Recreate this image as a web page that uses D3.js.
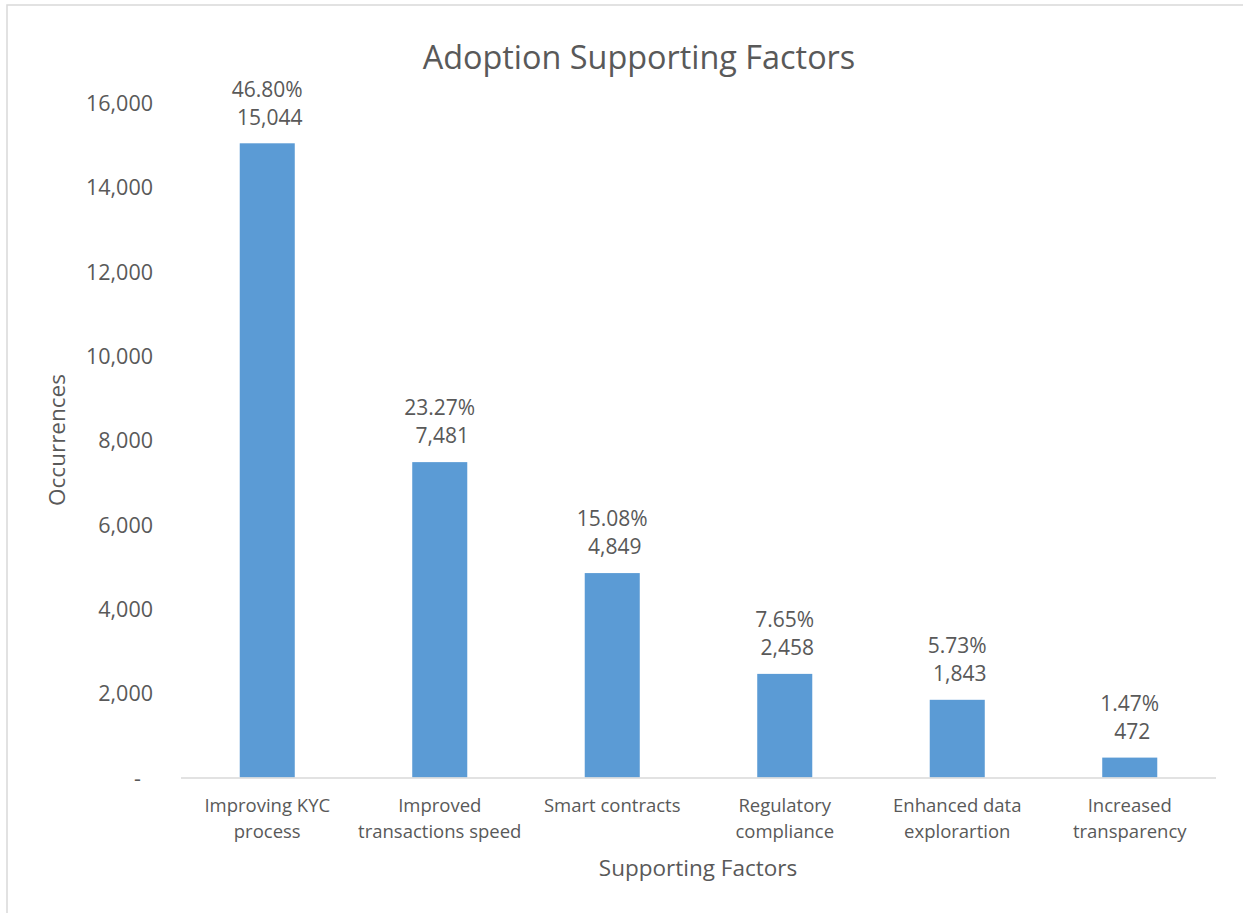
<!DOCTYPE html>
<html>
<head>
<meta charset="utf-8">
<script src="https://cdn.jsdelivr.net/npm/d3@7"></script>
<style>
    html, body { margin: 0; padding: 0; background: #fff; }
    svg { display: block; font-family: "Open Sans", sans-serif; }
    .txt { fill: #595959; }
</style>
</head>
<body>
<svg id="chart" width="1243" height="913"></svg>
<script>
(function () {
    "use strict";

    // data
    var categories = [
        ["Improving KYC", "process"],
        ["Improved", "transactions speed"],
        ["Smart contracts"],
        ["Regulatory", "compliance"],
        ["Enhanced data", "explorartion"],
        ["Increased", "transparency"]
    ];
    var occurrences = [15044, 7481, 4849, 2458, 1843, 472];
    var shares = ["46.80%", "23.27%", "15.08%", "7.65%", "5.73%", "1.47%"];
    var yTicks = [0, 2000, 4000, 6000, 8000, 10000, 12000, 14000, 16000];

    var svg = d3.select("#chart");
    var left = 181, right = 1216, top = 103, bottom = 777.5;

    // outer chart border (runs off the picture on the right and bottom)
    svg.append("rect")
        .attr("x", 7).attr("y", 5)
        .attr("width", 1400).attr("height", 1100)
        .attr("fill", "none")
        .attr("stroke", "#d9d9d9")
        .attr("stroke-width", 1.5);

    var x = d3.scaleBand()
        .domain(d3.range(categories.length))
        .range([left, right])
        .paddingInner(0.681)
        .paddingOuter(0.3405);

    var y = d3.scaleLinear()
        .domain([0, 16000])
        .range([bottom, top]);

    var fmt = d3.format(",");

    // y axis: labels only, no line or gridlines
    var yAxis = d3.axisLeft(y)
        .tickValues(yTicks)
        .tickSize(0)
        .tickPadding(0)
        .tickFormat(function (d) { return d === 0 ? "-" : fmt(d); });

    var $yAxis = svg.append("g")
        .attr("transform", "translate(153,0)")
        .call(yAxis);
    $yAxis.select(".domain").remove();
    $yAxis.selectAll("text")
        .attr("class", "txt")
        .attr("font-size", 21.5)
        .attr("font-family", "Open Sans")
        .attr("dy", "0.35em")
        .attr("dx", function (d) { return d === 0 ? -12 : 0; });

    // bars
    svg.append("g").selectAll("rect")
        .data(occurrences)
        .join("rect")
        .attr("x", function (d, i) { return x(i); })
        .attr("y", function (d) { return y(d); })
        .attr("width", x.bandwidth())
        .attr("height", function (d) { return bottom - y(d); })
        .attr("fill", "#5b9bd5");

    // x axis baseline
    svg.append("line")
        .attr("x1", left).attr("x2", right)
        .attr("y1", bottom + 0.5).attr("y2", bottom + 0.5)
        .attr("stroke", "#d9d9d9")
        .attr("stroke-width", 1.5);

    // data labels: share over count
    var $labels = svg.append("g").selectAll("g")
        .data(occurrences)
        .join("g")
        .attr("transform", function (d, i) {
            return "translate(" + (x(i) + x.bandwidth() / 2) + "," + y(d) + ")";
        });
    $labels.append("text")
        .attr("class", "txt")
        .attr("text-anchor", "middle")
        .attr("font-size", 21)
        .attr("y", -54)
        .attr("dy", "0.35em")
        .text(function (d, i) { return shares[i]; });
    $labels.append("text")
        .attr("class", "txt")
        .attr("text-anchor", "middle")
        .attr("font-size", 21)
        .attr("x", 2.5)
        .attr("y", -26)
        .attr("dy", "0.35em")
        .text(function (d) { return fmt(d); });

    // category labels
    var $cats = svg.append("g").selectAll("text")
        .data(categories)
        .join("text")
        .attr("class", "txt")
        .attr("text-anchor", "middle")
        .attr("font-size", 18.5)
        .attr("transform", function (d, i) {
            return "translate(" + (x(i) + x.bandwidth() / 2) + ",805.5)";
        });
    $cats.selectAll("tspan")
        .data(function (d) { return d; })
        .join("tspan")
        .attr("x", 0)
        .attr("y", function (d, j) { return j * 26; })
        .attr("dy", "0.35em")
        .text(function (d) { return d; });

    // titles
    svg.append("text")
        .attr("class", "txt")
        .attr("x", 639).attr("y", 58)
        .attr("dy", "0.35em")
        .attr("text-anchor", "middle")
        .attr("font-size", 32.4)
        .text("Adoption Supporting Factors");

    svg.append("text")
        .attr("class", "txt")
        .attr("x", 698).attr("y", 868)
        .attr("dy", "0.35em")
        .attr("text-anchor", "middle")
        .attr("font-size", 22.5)
        .text("Supporting Factors");

    svg.append("text")
        .attr("class", "txt")
        .attr("transform", "translate(57,440) rotate(-90)")
        .attr("dy", "0.35em")
        .attr("text-anchor", "middle")
        .attr("font-size", 22.5)
        .text("Occurrences");
})();
</script>
</body>
</html>
